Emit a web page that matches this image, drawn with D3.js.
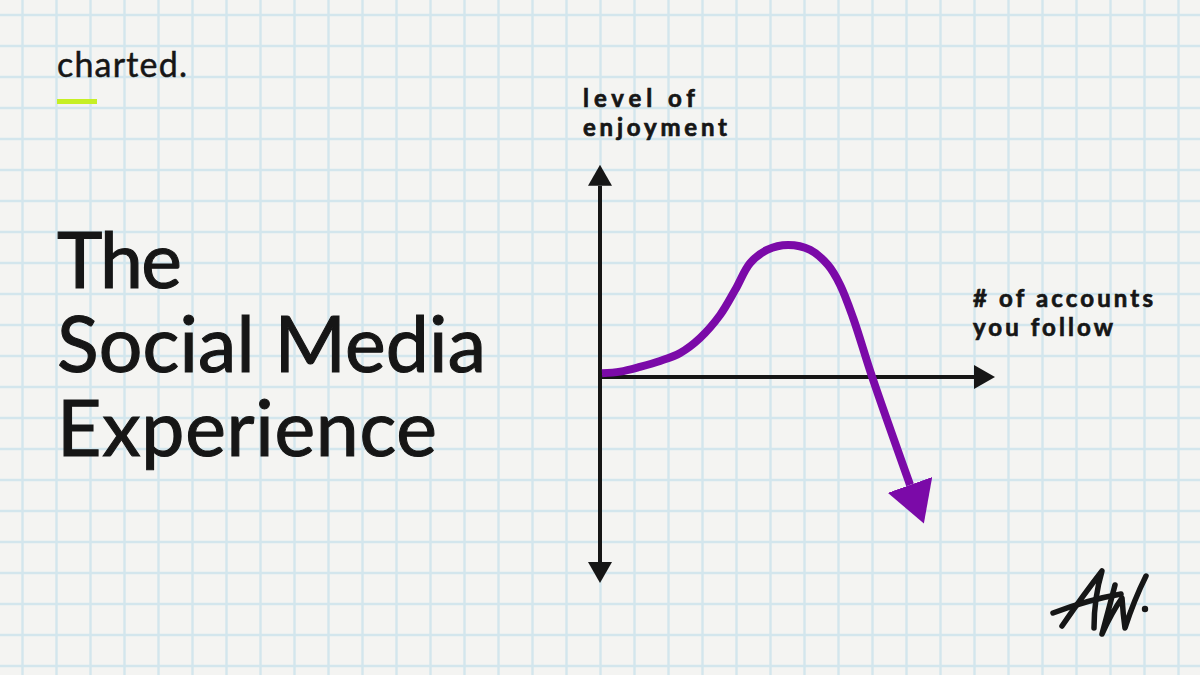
<!DOCTYPE html>
<html>
<head>
<meta charset="utf-8">
<script src="https://cdn.jsdelivr.net/npm/d3@7"></script>
<style>
  html, body { margin: 0; padding: 0; background: #f4f4f2; }
  svg { display: block; }
</style>
</head>
<body>
<svg id="chart" width="1200" height="675"></svg>
<script>
// ---------- data ----------
const brand = "charted.";
const titleLines = ["The", "Social Media", "Experience"];
const yAxisLabel = ["level of", "enjoyment"];
const xAxisLabel = ["# of accounts", "you follow"];
// conceptual curve: accounts followed (x) vs enjoyment (y)
const curveX = [0.5, 5.1, 10.1, 15.2, 20.3, 25.3, 30.4, 34.2, 38.0, 42.3, 47.6, 53.2, 57.7, 60.8, 64.1, 68.9, 78.5];
const curveY = [1.8, 2.6, 4.9, 7.8, 11.7, 18.9, 30.1, 42.2, 55.3, 61.7, 64.1, 61.7, 54.4, 44.7, 28.6, 0, -52.4];
const xAxisExtent = [0, 100];
const yAxisExtent = [-100, 103];

// ---------- setup ----------
const W = 1200, H = 675;
const svg = d3.select("#chart");
const FONT = "Lato, 'Open Sans', sans-serif";
const INK = "#161616";
const PURPLE = "#7b0aa8";

// paper
svg.append("rect").attr("width", W).attr("height", H).attr("fill", "#f4f4f2");

// grid paper
const gx = d3.range(22.5, W, 34);
const gy = d3.range(15, H, 31);
const grid = svg.append("g").attr("stroke", "#d3e6ed").attr("stroke-width", 2.4);
grid.selectAll("line.v").data(gx).join("line").attr("class", "v")
  .attr("x1", d => d).attr("x2", d => d).attr("y1", 0).attr("y2", H);
grid.selectAll("line.h").data(gy).join("line").attr("class", "h")
  .attr("y1", d => d).attr("y2", d => d).attr("x1", 0).attr("x2", W);

// helper: fit text width with letter spacing
function fit(sel, target) {
  sel.each(function () {
    const n = this.textContent.length;
    const w = this.getComputedTextLength();
    if (n > 1) d3.select(this).attr("letter-spacing", ((target - w) / (n - 1)).toFixed(2));
  });
}

// brand
svg.append("text").attr("x", 57).attr("y", 77)
  .attr("font-family", FONT).attr("font-size", 34).attr("fill", INK)
  .attr("stroke", INK).attr("stroke-width", 0.5)
  .text(brand).call(fit, 130);
svg.append("rect").attr("x", 57).attr("y", 99).attr("width", 40).attr("height", 5).attr("fill", "#c6ef24");

// title
const titleWidths = [125, 429, 380];
titleLines.forEach((t, i) => {
  svg.append("text").attr("x", 57).attr("y", 288 + i * 84)
    .attr("font-family", FONT).attr("font-size", 77).attr("fill", INK)
    .attr("stroke", INK).attr("stroke-width", 1.1)
    .text(t).call(fit, titleWidths[i]);
});

// ---------- chart ----------
const x = d3.scaleLinear().domain([0, 100]).range([600, 995]);
const y = d3.scaleLinear().domain([-100, 100]).range([583, 171]);

const defs = svg.append("defs");
function tri(id, len, wid, color) {
  defs.append("marker").attr("id", id)
    .attr("viewBox", `0 ${-wid / 2} ${len} ${wid}`)
    .attr("refX", 0).attr("refY", 0)
    .attr("markerUnits", "userSpaceOnUse")
    .attr("markerWidth", len).attr("markerHeight", wid)
    .attr("orient", "auto")
    .append("path").attr("d", `M0,${-wid / 2}L${len},0L0,${wid / 2}Z`).attr("fill", color);
}
tri("axArrow", 21, 24, INK);
tri("curveArrow", 41, 47, PURPLE);

// axes (arrows both ways on y)
const axes = svg.append("g").attr("stroke", INK).attr("stroke-width", 4).attr("fill", "none");
axes.append("line")
  .attr("x1", x(0)).attr("x2", x(0))
  .attr("y1", y(0)).attr("y2", y(yAxisExtent[1]) + 21)
  .attr("marker-end", "url(#axArrow)");
axes.append("line")
  .attr("x1", x(0)).attr("x2", x(0))
  .attr("y1", y(0)).attr("y2", y(yAxisExtent[0]) - 21)
  .attr("marker-end", "url(#axArrow)");
axes.append("line")
  .attr("x1", x(0) - 2).attr("x2", x(xAxisExtent[1]) - 21)
  .attr("y1", y(0)).attr("y2", y(0))
  .attr("marker-end", "url(#axArrow)");

// curve
const pts = curveX.map((d, i) => [d, curveY[i]]);
const line = d3.line().x(d => x(d[0])).y(d => y(d[1])).curve(d3.curveCatmullRom.alpha(0.5));
svg.append("path").attr("d", line(pts))
  .attr("fill", "none").attr("stroke", PURPLE).attr("stroke-width", 8)
  .attr("stroke-linecap", "butt")
  .attr("marker-end", "url(#curveArrow)");

// axis labels
const lab = svg.append("g").attr("font-family", FONT).attr("font-weight", 700)
  .attr("font-size", 24).attr("fill", INK).attr("stroke", INK).attr("stroke-width", 0.7);
const yW = [112, 144], xW = [180, 140];
yAxisLabel.forEach((t, i) => lab.append("text").attr("x", 583).attr("y", 107 + i * 29).text(t).call(fit, yW[i]));
xAxisLabel.forEach((t, i) => lab.append("text").attr("x", 973).attr("y", 307 + i * 29).text(t).call(fit, xW[i]));

// signature "AW."
const sig = svg.append("g").attr("fill", "none").attr("stroke", INK)
  .attr("stroke-width", 5.5).attr("stroke-linecap", "round").attr("stroke-linejoin", "round");
sig.append("path").attr("d", "M1062,626 Q1084,594 1102,571 Q1094,598 1094,628");
sig.append("path").attr("d", "M1053,613 Q1087,600 1121,594");
sig.append("path").attr("d", "M1115,585 Q1108,612 1102,634 Q1112,612 1122,598 Q1123,614 1125,628 Q1134,600 1146,576");
sig.append("circle").attr("cx", 1145).attr("cy", 609).attr("r", 3.2).attr("fill", INK).attr("stroke", "none");
</script>
</body>
</html>
